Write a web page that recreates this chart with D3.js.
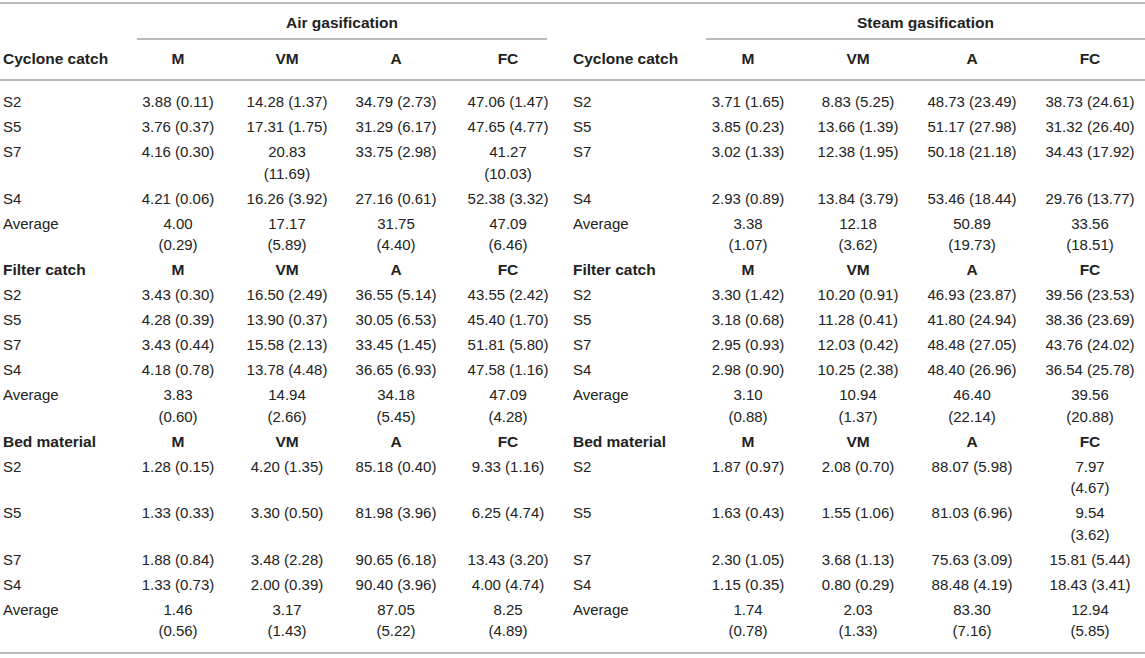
<!DOCTYPE html>
<html>
<head>
<meta charset="utf-8">
<script src="https://cdn.jsdelivr.net/npm/d3@7"></script>
<style>
  body { margin: 0; background: #fff; }
  text { font-family: "Liberation Sans", Arial, Helvetica, sans-serif; fill: #222; }
  .bold { font-weight: bold; font-size: 15.5px; }
  .cell { font-size: 15px; }
</style>
</head>
<body>
<svg id="chart"></svg>
<script>
// table content
const groups = ["Air gasification", "Steam gasification"];
const sections = ["Cyclone catch", "Filter catch", "Bed material"];
const columns = ["M", "VM", "A", "FC"];
const samples = ["S2", "S5", "S7", "S4", "Average"];

// mean (sd); "\n" marks where the cell wraps in the original
const airCyclone = [
  ["3.88 (0.11)", "14.28 (1.37)", "34.79 (2.73)", "47.06 (1.47)"],
  ["3.76 (0.37)", "17.31 (1.75)", "31.29 (6.17)", "47.65 (4.77)"],
  ["4.16 (0.30)", "20.83\n(11.69)", "33.75 (2.98)", "41.27\n(10.03)"],
  ["4.21 (0.06)", "16.26 (3.92)", "27.16 (0.61)", "52.38 (3.32)"],
  ["4.00\n(0.29)", "17.17\n(5.89)", "31.75\n(4.40)", "47.09\n(6.46)"]
];
const airFilter = [
  ["3.43 (0.30)", "16.50 (2.49)", "36.55 (5.14)", "43.55 (2.42)"],
  ["4.28 (0.39)", "13.90 (0.37)", "30.05 (6.53)", "45.40 (1.70)"],
  ["3.43 (0.44)", "15.58 (2.13)", "33.45 (1.45)", "51.81 (5.80)"],
  ["4.18 (0.78)", "13.78 (4.48)", "36.65 (6.93)", "47.58 (1.16)"],
  ["3.83\n(0.60)", "14.94\n(2.66)", "34.18\n(5.45)", "47.09\n(4.28)"]
];
const airBed = [
  ["1.28 (0.15)", "4.20 (1.35)", "85.18 (0.40)", "9.33 (1.16)"],
  ["1.33 (0.33)", "3.30 (0.50)", "81.98 (3.96)", "6.25 (4.74)"],
  ["1.88 (0.84)", "3.48 (2.28)", "90.65 (6.18)", "13.43 (3.20)"],
  ["1.33 (0.73)", "2.00 (0.39)", "90.40 (3.96)", "4.00 (4.74)"],
  ["1.46\n(0.56)", "3.17\n(1.43)", "87.05\n(5.22)", "8.25\n(4.89)"]
];
const steamCyclone = [
  ["3.71 (1.65)", "8.83 (5.25)", "48.73 (23.49)", "38.73 (24.61)"],
  ["3.85 (0.23)", "13.66 (1.39)", "51.17 (27.98)", "31.32 (26.40)"],
  ["3.02 (1.33)", "12.38 (1.95)", "50.18 (21.18)", "34.43 (17.92)"],
  ["2.93 (0.89)", "13.84 (3.79)", "53.46 (18.44)", "29.76 (13.77)"],
  ["3.38\n(1.07)", "12.18\n(3.62)", "50.89\n(19.73)", "33.56\n(18.51)"]
];
const steamFilter = [
  ["3.30 (1.42)", "10.20 (0.91)", "46.93 (23.87)", "39.56 (23.53)"],
  ["3.18 (0.68)", "11.28 (0.41)", "41.80 (24.94)", "38.36 (23.69)"],
  ["2.95 (0.93)", "12.03 (0.42)", "48.48 (27.05)", "43.76 (24.02)"],
  ["2.98 (0.90)", "10.25 (2.38)", "48.40 (26.96)", "36.54 (25.78)"],
  ["3.10\n(0.88)", "10.94\n(1.37)", "46.40\n(22.14)", "39.56\n(20.88)"]
];
const steamBed = [
  ["1.87 (0.97)", "2.08 (0.70)", "88.07 (5.98)", "7.97\n(4.67)"],
  ["1.63 (0.43)", "1.55 (1.06)", "81.03 (6.96)", "9.54\n(3.62)"],
  ["2.30 (1.05)", "3.68 (1.13)", "75.63 (3.09)", "15.81 (5.44)"],
  ["1.15 (0.35)", "0.80 (0.29)", "88.48 (4.19)", "18.43 (3.41)"],
  ["1.74\n(0.78)", "2.03\n(1.33)", "83.30\n(7.16)", "12.94\n(5.85)"]
];

const width = 1145;
const height = 658;
const rowStep = 25;
const lineStep = 21.5;
const ruleColor = "#a3a3a3";

const svg = d3.select("#chart")
  .attr("width", width)
  .attr("height", height);

// column layout of the two halves
const blocks = [
  { name: groups[0], labelX: 3, span: [137, 547], data: [airCyclone, airFilter, airBed],
    x: d3.scaleOrdinal().domain(columns).range([178, 287, 396, 508]) },
  { name: groups[1], labelX: 573, span: [706, width], data: [steamCyclone, steamFilter, steamBed],
    x: d3.scaleOrdinal().domain(columns).range([748, 858, 972, 1090]) }
];

// work out the row positions
const rows = [];
let y = 59;
sections.forEach((sec, si) => {
  rows.push({ head: true, si, y });
  y = si === 0 ? 102 : y + rowStep;
  samples.forEach((s, ri) => {
    const n = d3.max(blocks, b => d3.max(b.data[si][ri], v => v.split("\n").length));
    rows.push({ head: false, si, ri, y });
    y += rowStep + lineStep * (n - 1);
  });
});

// rules
const rules = [
  { x1: 0, x2: width, y: 3 },
  { x1: 0, x2: width, y: 80 },
  { x1: 0, x2: width, y: 653 }
].concat(blocks.map(b => ({ x1: b.span[0], x2: b.span[1], y: 39 })));

svg.selectAll("line.rule")
  .data(rules)
  .enter()
  .append("line")
  .attr("class", "rule")
  .attr("x1", d => d.x1)
  .attr("x2", d => d.x2)
  .attr("y1", d => d.y)
  .attr("y2", d => d.y)
  .attr("stroke", ruleColor)
  .attr("stroke-width", 1.6);

blocks.forEach(b => {
  const g = svg.append("g");

  // group title
  g.append("text")
    .attr("class", "bold")
    .attr("x", (b.span[0] + b.span[1]) / 2)
    .attr("y", 23)
    .attr("dy", "0.35em")
    .attr("text-anchor", "middle")
    .text(b.name);

  rows.forEach(r => {
    // row label
    g.append("text")
      .attr("class", r.head ? "bold" : "cell")
      .attr("x", b.labelX)
      .attr("y", r.y)
      .attr("dy", "0.35em")
      .text(r.head ? sections[r.si] : samples[r.ri]);

    const cells = r.head ? columns : b.data[r.si][r.ri];
    cells.forEach((v, ci) => {
      const t = g.append("text")
        .attr("class", r.head ? "bold" : "cell")
        .attr("x", b.x(columns[ci]))
        .attr("y", r.y)
        .attr("text-anchor", "middle");
      v.split("\n").forEach((part, li) => {
        t.append("tspan")
          .attr("x", b.x(columns[ci]))
          .attr("y", r.y + li * lineStep)
          .attr("dy", "0.35em")
          .text(part);
      });
    });
  });
});
</script>
</body>
</html>
